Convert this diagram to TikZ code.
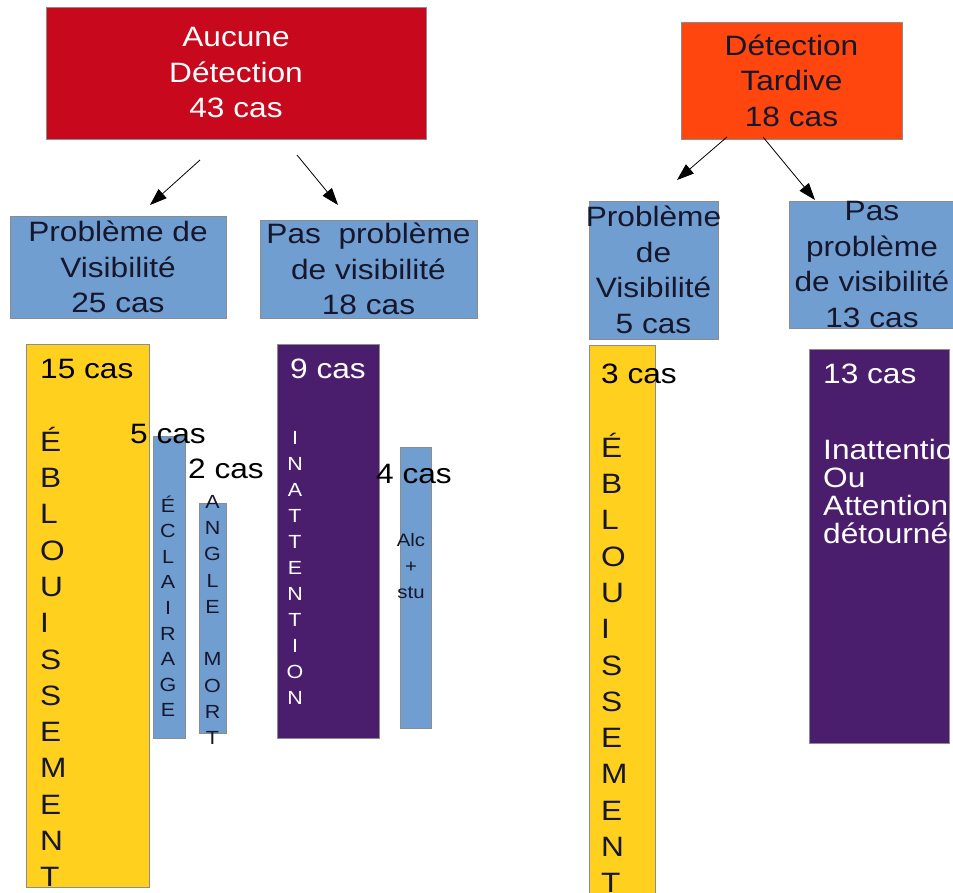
\documentclass[tikz,border=0pt]{standalone}
\usepackage{fontspec}
\setmainfont{Liberation Sans}[FakeStretch=1.13]
\usetikzlibrary{arrows.meta, positioning}
\definecolor{colRouge}{RGB}{200,8,28}
\definecolor{colOrange}{RGB}{255,70,14}
\definecolor{colBleu}{RGB}{112,158,208}
\definecolor{colJaune}{RGB}{255,208,30}
\definecolor{colViolet}{RGB}{74,30,108}
\definecolor{colTexte}{RGB}{22,22,44}
\tikzset{->, >={Triangle[length=17pt, width=12pt]}}

\begin{document}
\begin{tikzpicture}[x=1pt, y=-1pt, inner sep=0pt,
    boite/.style={rectangle, draw=black!45, line width=0.6pt, align=center, text=colTexte, font=\fontsize{28}{35.5}\selectfont},
    colonne/.style={rectangle, draw=black!45, line width=0.6pt, anchor=north west},
    compte/.style={anchor=base west, text=black, font=\fontsize{28}{34}\selectfont},
    lettres/.style={anchor=south, align=center, text=colTexte, font=\fontsize{19}{26}\selectfont}]
    \useasboundingbox (0,0) rectangle (953,892);

    % aucune detection
    \node[boite, fill=colRouge, text=white, minimum width=380, minimum height=132] (aucune) at (236,73) {Aucune\\Détection\\43 cas};
    \node[boite, fill=colBleu, minimum width=216, minimum height=102] (visib-a) at (118,267) {Problème de\\Visibilité\\25 cas};
    \node[boite, fill=colBleu, minimum width=217, minimum height=98] (pasvisib-a) at (368.5,269) {Pas~~problème\\de visibilité\\18 cas};

    \node[colonne, fill=colJaune, minimum width=123, minimum height=543] (eblouis-a) at (26,344) {};
    \node[colonne, fill=colBleu, minimum width=32, minimum height=302] (eclairage) at (153,436) {};
    \node[colonne, fill=colBleu, minimum width=27, minimum height=230] (angle) at (199,503) {};
    \node[colonne, fill=colViolet, minimum width=102, minimum height=394] (inatt-a) at (277,344) {};
    \node[colonne, fill=colBleu, minimum width=31, minimum height=281] (alcool) at (400,447) {};

    \node[compte] (eblouis-a-n) at (40,378) {15 cas};
    \node[lettres, anchor=south west, align=left, font=\fontsize{28}{36.3}\selectfont] (eblouis-a-txt) at (40,887) {É\\B\\L\\O\\U\\I\\S\\S\\E\\M\\E\\N\\T};
    \node[compte] (eclairage-n) at (130,443) {5 cas};
    \node[lettres, font=\fontsize{19}{25.6}\selectfont] (eclairage-txt) at (168,717) {É\\C\\L\\A\\I\\R\\A\\G\\E};
    \node[compte] (angle-n) at (188,478) {2 cas};
    \node[lettres, font=\fontsize{19}{26.3}\selectfont] (angle-txt) at (212.5,745) {A\\N\\G\\L\\E\\[26.3pt]M\\O\\R\\T};
    \node[compte, text=white] (inatt-a-n) at (290,378) {9 cas};
    \node[lettres, text=white] (inatt-a-txt) at (295,705) {I\\N\\A\\T\\T\\E\\N\\T\\I\\O\\N};
    \node[compte] (alcool-n) at (376,483) {4 cas};
    \node[lettres, font=\fontsize{18}{26}\selectfont] (alcool-txt) at (411,599) {Alc\\+\\stu};

    % detection tardive
    \node[boite, fill=colOrange, minimum width=221, minimum height=117] (tardive) at (791.5,80.5) {Détection\\Tardive\\18 cas};
    \node[boite, fill=colBleu, minimum width=129, minimum height=138] (visib-t) at (653.5,270) {\makebox[100pt]{Problème}\\de\\Visibilité\\5 cas};
    \node[boite, fill=colBleu, minimum width=166, minimum height=127] (pasvisib-t) at (872,264.5) {Pas\\problème\\de visibilité\\13 cas};

    \node[colonne, fill=colJaune, minimum width=66, minimum height=560] (eblouis-t) at (589,345) {};
    \node[colonne, fill=colViolet, minimum width=140, minimum height=394] (inatt-t) at (809,349) {};

    \node[compte] (eblouis-t-n) at (601,383) {3 cas};
    \node[lettres, anchor=south west, align=left, font=\fontsize{28}{36.3}\selectfont] (eblouis-t-txt) at (601,893) {É\\B\\L\\O\\U\\I\\S\\S\\E\\M\\E\\N\\T};
    \node[compte, text=white] (inatt-t-n) at (823,383) {13 cas};
    \node[lettres, anchor=south west, align=left, text=white, font=\fontsize{28}{28}\selectfont] (inatt-t-txt) at (823,544) {Inattention\\Ou\\Attention\\détournée};

    % fleches
    \coordinate (fl1-a) at (200,160);
    \coordinate (fl1-b) at (150,205);
    \coordinate (fl2-a) at (297,155);
    \coordinate (fl2-b) at (338,205);
    \coordinate (fl3-a) at (727,137);
    \coordinate (fl3-b) at (677,180);
    \coordinate (fl4-a) at (763,137);
    \coordinate (fl4-b) at (815,200);
    \path[line width=0.8pt] (fl1-a) edge (fl1-b)
        (fl2-a) edge (fl2-b)
        (fl3-a) edge (fl3-b)
        (fl4-a) edge (fl4-b);
\end{tikzpicture}
\end{document}
